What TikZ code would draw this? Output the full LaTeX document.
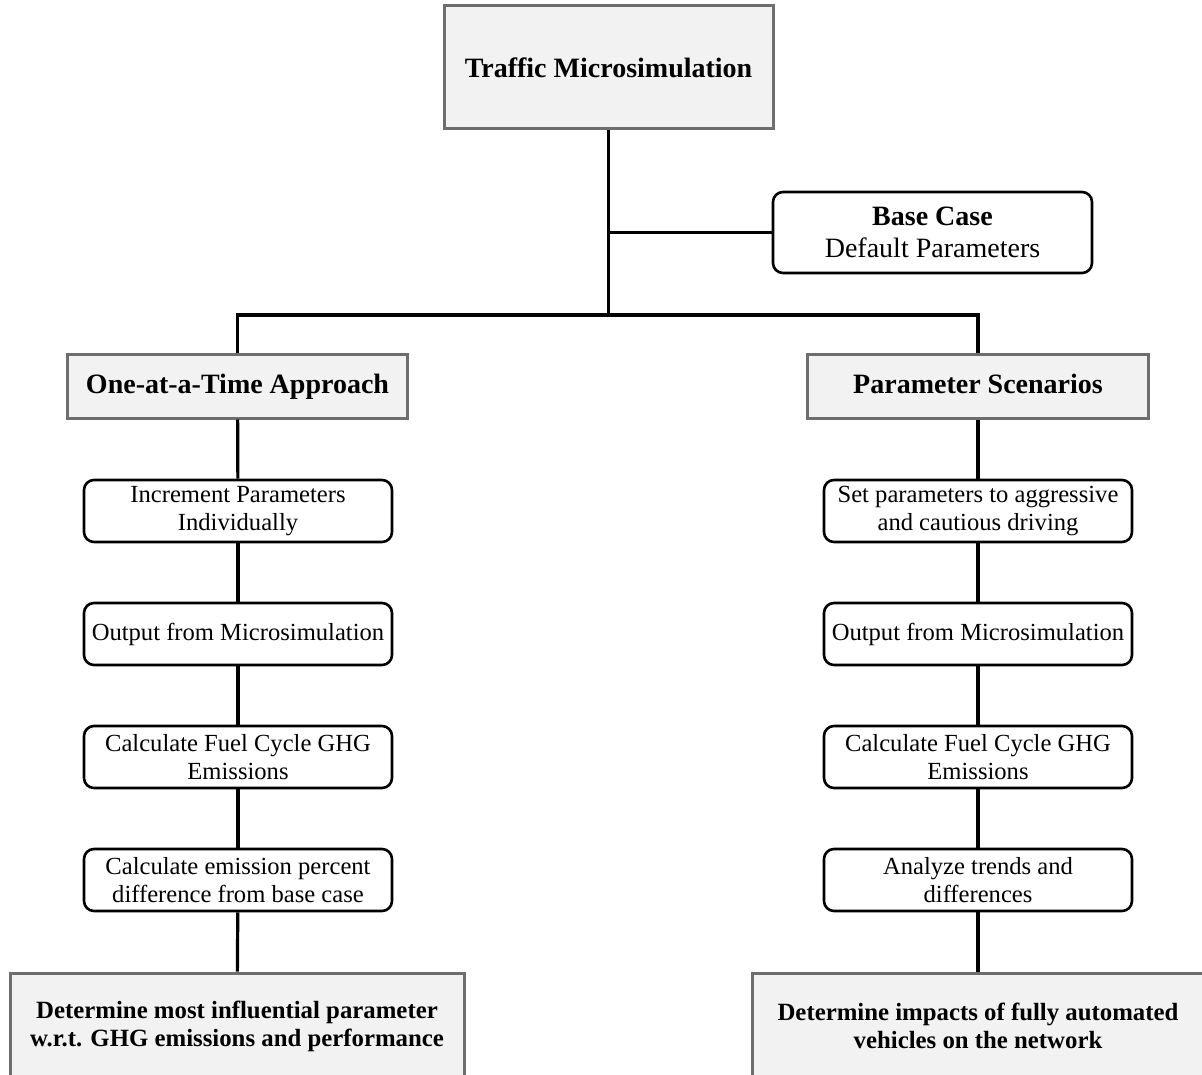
\documentclass[tikz,border=0pt]{standalone}
\usepackage{fontspec}
\setmainfont{LiberationSerif}[Extension=.ttf, UprightFont=*-Regular, BoldFont=*-Bold, ItalicFont=*-Italic, BoldItalicFont=*-BoldItalic]
\usetikzlibrary{positioning}
\tikzstyle{headbox}=[rectangle, draw=black!57, line width=1.5pt, fill=black!5, align=center, inner sep=0pt, font=\fontsize{14}{16}\selectfont\bfseries]
\tikzstyle{stepbox}=[rectangle, draw, line width=1.3pt, rounded corners=5pt, fill=white, align=center, inner sep=0pt, minimum width=154pt, minimum height=31pt, font=\fontsize{12.3}{14}\selectfont]
\tikzstyle{link}=[line width=1.6pt]

\begin{document}
\begin{tikzpicture}[x=0.5pt, y=-0.5pt]
  \useasboundingbox (0,0) rectangle (1202,1074);
  \clip (0,0) rectangle (1202,1074);

  \node[headbox, minimum width=164.5pt, minimum height=61.5pt] (traffic) at (608.5,67.5) {Traffic Microsimulation};
  \node[stepbox, minimum width=159.5pt, minimum height=40.5pt, font=\fontsize{14}{16}\selectfont] (base) at (932.5,232.5) {\textbf{Base Case}\\Default Parameters};
  \coordinate (split) at (608.5,315);

  \node[headbox, minimum width=170pt, minimum height=31.5pt, text height=10pt, text depth=3pt] (oat) at (237.5,386.5) {One-at-a-Time Approach};
  \node[stepbox] (inc) at (238,511) {Increment Parameters\\Individually};
  \node[stepbox] (outl) at (238,634) {Output from Microsimulation};
  \node[stepbox] (ghgl) at (238,757) {Calculate Fuel Cycle GHG\\Emissions};
  \node[stepbox] (diff) at (238,880) {Calculate emission percent\\difference from base case};
  \node[headbox, minimum width=227pt, minimum height=53pt, font=\fontsize{12.4}{14}\selectfont\bfseries] (influ) at (237,1026) {Determine most influential parameter\\w.r.t. GHG emissions and performance};

  \node[headbox, minimum width=170.5pt, minimum height=31.5pt, text height=10pt, text depth=3pt] (scen) at (978,386.5) {Parameter Scenarios};
  \node[stepbox] (aggr) at (978,511) {Set parameters to aggressive\\and cautious driving};
  \node[stepbox] (outr) at (978,634) {Output from Microsimulation};
  \node[stepbox] (ghgr) at (978,757) {Calculate Fuel Cycle GHG\\Emissions};
  \node[stepbox] (trend) at (978,880) {Analyze trends and\\differences};
  \node[headbox, minimum width=226pt, minimum height=53pt, font=\fontsize{12.4}{14}\selectfont\bfseries] (autom) at (978,1026) {Determine impacts of fully automated\\vehicles on the network};

  % trunk and branches
  \draw[link] (traffic) -- (split);
  \draw[link] (base.west) -- (base.west -| traffic.south);
  \draw[link] (oat.north) |- (split) -| (scen.north);
  \foreach \a/\b in {oat/inc, inc/outl, outl/ghgl, ghgl/diff, diff/influ,
                     scen/aggr, aggr/outr, outr/ghgr, ghgr/trend, trend/autom}
    \draw[link] (\a) -- (\b);
\end{tikzpicture}
\end{document}
